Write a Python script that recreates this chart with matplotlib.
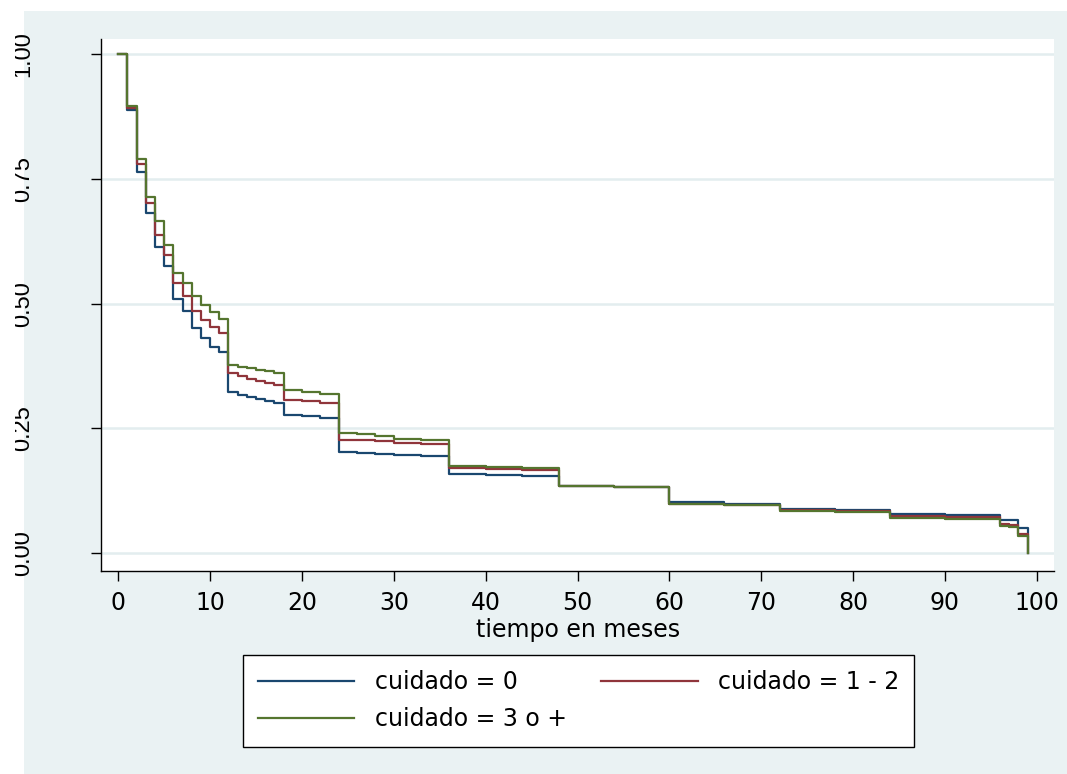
import matplotlib
matplotlib.use("Agg")
import matplotlib.pyplot as plt
from matplotlib.patches import Rectangle
from matplotlib.transforms import Bbox, TransformedBbox, blended_transform_factory

# ---- data ----
months = [0, 1, 2, 3, 4, 5, 6, 7, 8, 9, 10, 11, 12, 13, 14, 15, 16, 17, 18, 20, 22,
          24, 26, 28, 30, 33, 36, 40, 44, 48, 54, 60, 66, 72, 78, 84, 90, 96, 97, 98, 99]

surv_0 = [1.000, 0.888, 0.765, 0.681, 0.614, 0.576, 0.509, 0.486, 0.451, 0.432, 0.414,
          0.404, 0.323, 0.317, 0.313, 0.309, 0.305, 0.301, 0.277, 0.274, 0.271,
          0.203, 0.201, 0.199, 0.196, 0.194, 0.158, 0.156, 0.154, 0.134, 0.132,
          0.102, 0.099, 0.088, 0.086, 0.078, 0.076, 0.067, 0.067, 0.051, 0.000]

surv_12 = [1.000, 0.893, 0.781, 0.701, 0.638, 0.598, 0.541, 0.515, 0.486, 0.467, 0.453,
           0.441, 0.360, 0.354, 0.349, 0.345, 0.341, 0.337, 0.307, 0.304, 0.301,
           0.227, 0.226, 0.224, 0.221, 0.219, 0.170, 0.168, 0.166, 0.135, 0.133,
           0.099, 0.097, 0.086, 0.084, 0.074, 0.072, 0.058, 0.056, 0.039, 0.000]

surv_3 = [1.000, 0.896, 0.791, 0.713, 0.665, 0.618, 0.561, 0.541, 0.515, 0.497, 0.484,
          0.469, 0.377, 0.373, 0.370, 0.367, 0.364, 0.360, 0.327, 0.323, 0.319,
          0.240, 0.238, 0.235, 0.229, 0.226, 0.175, 0.173, 0.171, 0.135, 0.132,
          0.099, 0.097, 0.085, 0.083, 0.070, 0.068, 0.054, 0.052, 0.034, 0.000]

series_labels = ["cuidado = 0", "cuidado = 1 - 2", "cuidado = 3 o +"]
series_colors = ["#1a476f", "#90353b", "#55752f"]

x_ticks = list(range(0, 101, 10))
y_ticks = [0.0, 0.25, 0.5, 0.75, 1.0]
y_ticklabels = ["0.00", "0.25", "0.50", "0.75", "1.00"]
x_label = "tiempo en meses"

# ---- figure ----
W, H = 1067, 774
BG = "#EAF2F3"
plt.rcParams["font.family"] = ["DejaVu Sans"]

fig = plt.figure(figsize=(W / 100, H / 100), dpi=100, facecolor="white")
fig.add_artist(Rectangle((24 / W, 0), 1 - 24 / W, 1 - 11 / H, transform=fig.transFigure,
                         facecolor=BG, edgecolor="none", zorder=-10))

left, right, top, bottom = 101, 1054, 39, 571
ax = fig.add_axes([left / W, 1 - bottom / H, (right - left) / W, (bottom - top) / H])
ax.set_facecolor("white")
ax.set_xlim(-1.88, 101.88)
ax.set_ylim(-0.0361, 1.0307)

for s in ["top", "right"]:
    ax.spines[s].set_visible(False)
for s in ["left", "bottom"]:
    ax.spines[s].set_color("black")
    ax.spines[s].set_linewidth(1.0)

for yv in y_ticks:
    ax.axhline(yv, color="#E3EDEF", lw=1.8, zorder=0.5)

handles = []
for vals, lab, col in zip([surv_0, surv_12, surv_3], series_labels, series_colors):
    h, = ax.step(months, vals, where="post", color=col, lw=1.6, label=lab, zorder=2)
    handles.append(h)

ax.set_xticks(x_ticks)
ax.set_xticklabels([str(v) for v in x_ticks])
ax.tick_params(axis="x", length=7.2, width=1, color="black", labelsize=17, pad=7)
ax.set_yticks(y_ticks)
ax.set_yticklabels([])
ax.tick_params(axis="y", length=7.2, width=1, color="black")

# rotated y tick labels (clipped at the left edge like the reference)
clip = TransformedBbox(Bbox.from_extents(15 / W, 0, 1, 1), fig.transFigure)
tr = blended_transform_factory(fig.transFigure, ax.transData)
for yv, lab in zip(y_ticks, y_ticklabels):
    t = ax.text(29 / W, yv, lab, transform=tr, rotation=90, rotation_mode="anchor",
                ha="center", va="baseline", fontsize=17, family=["Liberation Sans"],
                color="black")
    t.set_clip_box(clip)
    t.set_clip_on(True)

fig.text(578 / W, 1 - 637 / H, x_label, ha="center", va="baseline", fontsize=17)

order = [0, 2, 1]
leg = fig.legend([handles[i] for i in order], [series_labels[i] for i in order],
                 loc="upper left", bbox_to_anchor=(243 / W, 1 - 655 / H),
                 bbox_transform=fig.transFigure, borderaxespad=0, ncol=2,
                 fontsize=17, handlelength=4.07, handletextpad=0.85, columnspacing=1.48,
                 borderpad=0.65, labelspacing=0.55, fancybox=False, frameon=True)
leg.get_frame().set_edgecolor("black")
leg.get_frame().set_linewidth(1.0)
leg.get_frame().set_facecolor("white")
leg.get_frame().set_alpha(1)

fig.savefig("out.png", dpi=100, facecolor="white")
